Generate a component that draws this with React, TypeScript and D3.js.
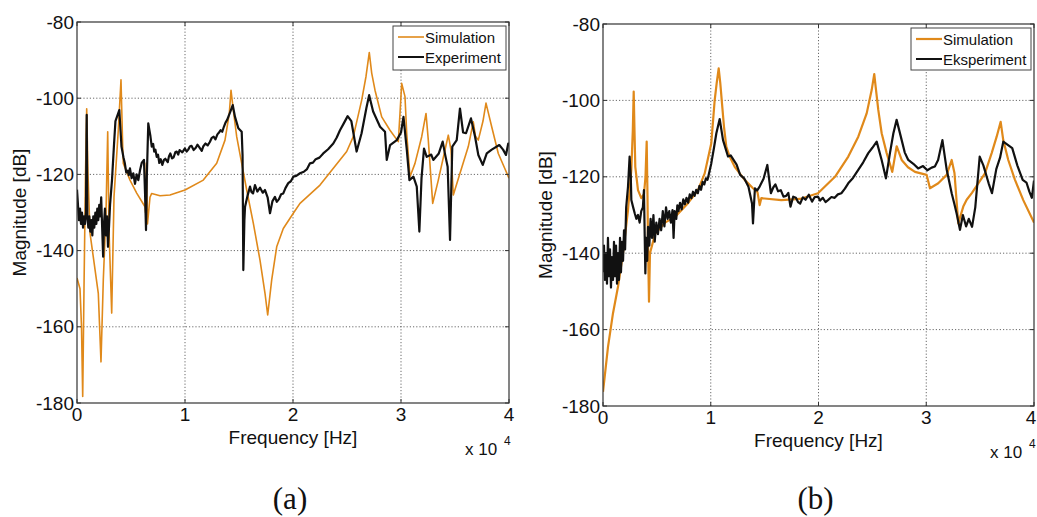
import React from "react";
import * as d3 from "d3";

// ---------- DATA (frequency in Hz, magnitude in dB) ----------
const xTicks = [0, 1, 2, 3, 4];
const yTicks = [-80, -100, -120, -140, -160, -180];

const simA: [number, number][] = [
  [0, -147.2], [278, -150], [417, -160], [528, -178.3], [648, -150], [787, -120], [898, -102.8],
  [1019, -120], [1204, -135.4], [1972, -151.2], [2222, -169.2], [2435, -147.7], [2685, -130.2],
  [2843, -108.8], [2963, -134.6], [3213, -156.4], [3426, -125.9], [3824, -108.4], [4074, -95.2],
  [4231, -112.7], [4287, -117.1], [4907, -121.5], [5528, -124.9], [6296, -128.5], [6343, -130],
  [6417, -117], [6528, -133], [6759, -126], [6917, -125], [7685, -125.6], [8611, -125.4],
  [10000, -124.1], [11694, -121.5], [12935, -117.1], [13704, -111], [14102, -104], [14259, -97.9],
  [14472, -103.1], [14787, -110.1], [15250, -117.1], [15713, -124.1], [16324, -132.8], [16944, -142.5],
  [17407, -151.2], [17657, -156.9], [18028, -147.7], [18491, -139], [19102, -134.2], [20028, -130.2],
  [20648, -127.6], [22500, -122.8], [24972, -114], [25583, -110.1], [26361, -100.5], [26759, -94.3],
  [27065, -88], [27287, -93.4], [27593, -97.9], [28213, -104.9], [28981, -108.4], [29750, -111.4],
  [29907, -104], [30065, -96.1], [30370, -99.6], [30528, -109.2], [30833, -120.6], [31296, -117.1],
  [31917, -110.1], [32315, -104], [32528, -111], [32935, -127.6], [33454, -121.5], [34074, -113.6],
  [34380, -109.7], [34630, -113.6], [34843, -125.4], [35463, -119.7], [36231, -112.7], [36694, -106.2],
  [36898, -110], [37157, -111], [37593, -106], [37870, -101.3], [38398, -107.5], [39009, -114.5],
  [40000, -121],
];

const expA: [number, number][] = [
  [0, -124], [90, -128], [180, -132], [280, -129], [370, -133], [460, -130], [560, -134], [650, -131],
  [740, -133], [830, -130], [880, -110], [900, -104.4], [930, -118], [960, -131], [1050, -134],
  [1140, -131], [1230, -135], [1320, -132], [1420, -136], [1510, -131], [1600, -134], [1700, -130],
  [1790, -133], [1880, -129], [1970, -132], [2060, -128], [2150, -131], [2240, -126], [2330, -134],
  [2420, -141.6], [2500, -133], [2590, -129], [2680, -136], [2780, -131], [2870, -139], [2960, -134],
  [3060, -128], [3240, -121.5], [3430, -112], [3560, -106], [3917, -103.1], [4120, -112.7],
  [4300, -115.5], [4430, -117.1], [4560, -119.5], [4700, -119], [4800, -120.2], [4900, -118.4],
  [5060, -121], [5210, -119.7], [5370, -122.5], [5520, -120], [5680, -121.5], [5830, -119],
  [5990, -117], [6200, -116.2], [6300, -125], [6390, -134.6], [6470, -120], [6600, -106.6],
  [6800, -110], [6920, -112.7], [7050, -112], [7150, -114], [7260, -113.5], [7380, -115.4],
  [7500, -114.8], [7620, -117], [7750, -116], [7900, -117.5], [8050, -116.2], [8180, -115.9],
  [8400, -116.8], [8520, -115.2], [8640, -114.5], [8800, -115.8], [8950, -115.5], [9100, -114.2],
  [9230, -114], [9370, -114.8], [9500, -113.6], [9750, -114.2], [9990, -113.2], [10150, -114],
  [10300, -113.5], [10450, -112.7], [10600, -112.5], [10800, -113.6], [11000, -113], [11150, -112.2],
  [11300, -112.8], [11550, -113.8], [11700, -112.6], [11900, -111.9], [12100, -112.4], [12300, -111.5],
  [12480, -110.4], [12650, -110.1], [12820, -110.8], [13000, -109.5], [13150, -109], [13300, -108.4],
  [13450, -108.8], [13600, -107.5], [13750, -106.4], [13900, -105.7], [14010, -104.9], [14200, -103.5],
  [14420, -101.8], [14630, -104.9], [14940, -107.9], [15250, -108.8], [15330, -115], [15400, -145.1],
  [15500, -132], [15560, -128.5], [15800, -125.5], [16020, -123.2], [16150, -124.6], [16300, -125],
  [16480, -122.8], [16700, -124.5], [16950, -123.5], [17200, -124.8], [17410, -124.1], [17650, -126],
  [17870, -130.2], [18100, -127], [18330, -125.9], [18500, -127.2], [18700, -126.5], [18900, -125.2],
  [19100, -125], [19300, -123.6], [19560, -122.3], [19800, -121.8], [20030, -120.6], [20300, -120.4],
  [20650, -119.7], [21000, -119.3], [21300, -118.6], [21570, -117.1], [21850, -116.9], [22100, -116],
  [22450, -115.6], [22800, -114.5], [23250, -113.4], [23730, -111.9], [24050, -110.3], [24350, -108.4],
  [24700, -106.6], [25060, -104.7], [25400, -106], [25890, -114], [26350, -109.2], [26800, -102.5],
  [27050, -99.2], [27420, -103.5], [28060, -107.5], [28520, -108.8], [28680, -116.2], [28990, -112.3],
  [29610, -111], [30000, -109], [30230, -104.9], [30540, -113.6], [30780, -121.5], [31150, -120.6],
  [31460, -123.2], [31700, -135], [31900, -121], [32130, -113.2], [32380, -115.4], [32800, -114.8],
  [32990, -116.2], [33500, -114.5], [33860, -111.4], [34100, -115], [34320, -118], [34540, -137.2],
  [34750, -112.7], [35160, -111], [35460, -102.7], [35750, -109], [36020, -109.2], [36480, -105.3],
  [36850, -110], [37160, -114.9], [37570, -117.5], [37940, -114.5], [38400, -113.5], [39100, -112.3],
  [39450, -113.5], [39720, -114.9], [39930, -111.9], [40000, -112],
];

const simB: [number, number][] = [
  [0, -176.3], [464, -164.5], [928, -155.7], [1392, -148.8], [1856, -140], [2320, -128.7],
  [2626, -118.2], [2765, -108], [2849, -97.7], [2923, -108], [2997, -117.4], [3248, -123.5],
  [3554, -125.6], [3805, -124.5], [3944, -120], [4055, -110.8], [4130, -125], [4176, -137.4],
  [4269, -152.7], [4361, -140], [4826, -135], [5754, -132], [6682, -130.5], [7888, -126.9],
  [8816, -123.5], [9438, -119.1], [10050, -111.2], [10366, -99.9], [10551, -95.5], [10737, -91.6],
  [10885, -95.5], [11043, -100.8], [11229, -106.9], [11442, -112.1], [11755, -114.7], [12222, -117.4],
  [13150, -120.8], [13920, -123], [14338, -124], [14542, -127.4], [14690, -125.6], [16546, -126.1],
  [18282, -125.8], [19952, -124.3], [21530, -120], [22764, -114.7], [23692, -109.5], [24471, -103.4],
  [24935, -97.3], [25084, -94.7], [25176, -93.1], [25303, -96.4], [25548, -102.5], [25863, -108.6],
  [26327, -113.8], [26847, -118.7], [27255, -112], [27719, -115.6], [28304, -117.5], [28954, -118.7],
  [30039, -119.5], [30346, -123], [31116, -121.7], [31895, -119.5], [32359, -115.6], [32619, -119],
  [32972, -132.2], [33436, -127.8], [33750, -126], [34243, -124.2], [35450, -119.1], [36071, -113.8],
  [36535, -109.5], [36906, -105.6], [37147, -110.4], [37611, -115.6], [38234, -120.8], [39004, -126.1],
  [40000, -132],
];

const expB: [number, number][] = [
  [0, -145], [90, -138], [180, -147], [280, -140], [370, -148], [460, -136], [560, -146], [650, -139],
  [740, -149], [830, -141], [930, -147], [1020, -137], [1110, -146], [1210, -138], [1300, -148],
  [1390, -140], [1480, -147], [1580, -136], [1670, -145], [1760, -137], [1860, -142], [1950, -134],
  [2050, -139], [2150, -128], [2320, -122.6], [2470, -114.7], [2580, -120], [2630, -126.1],
  [2800, -128], [2950, -129.6], [3100, -131], [3250, -130], [3400, -132], [3550, -129], [3700, -128],
  [3800, -123.5], [3930, -145.3], [4000, -136], [4100, -142], [4180, -133.1], [4300, -138],
  [4420, -131], [4550, -136], [4680, -130], [4800, -137], [4950, -132], [5100, -135], [5250, -131],
  [5400, -134], [5550, -129], [5700, -133], [5850, -128], [6000, -131], [6150, -129], [6300, -132],
  [6450, -128.7], [6550, -136], [6650, -129], [6800, -131], [6900, -127.5], [7000, -129], [7150, -126.8],
  [7300, -128.5], [7450, -125.9], [7600, -127.2], [7750, -125.5], [7900, -126.8], [8050, -124.6],
  [8200, -125.6], [8350, -123.9], [8500, -125], [8650, -123.4], [8800, -124.3], [8950, -122.4],
  [9100, -123.4], [9250, -121.3], [9400, -122], [9550, -120.4], [9700, -120.8], [9880, -118.6],
  [10050, -116.5], [10300, -112.4], [10520, -108.6], [10830, -104.9], [11140, -110.4], [11600, -114.7],
  [11850, -114.4], [12100, -115.5], [12400, -116.8], [12730, -119.5], [13100, -120.4], [13500, -122.6],
  [13830, -127], [13920, -132.2], [14100, -123], [14300, -123.6], [14550, -122.5], [14900, -120.5],
  [15250, -116.9], [15580, -124.3], [15800, -122.8], [16000, -122], [16250, -123.8], [16500, -123.5],
  [16750, -125.2], [17000, -125], [17200, -124.2], [17400, -127.8], [17650, -125.2], [17900, -125.5],
  [18100, -126.6], [18300, -127], [18550, -125.4], [18800, -126], [19100, -124.7], [19400, -126.5],
  [19650, -125.3], [19950, -125.2], [20150, -126.2], [20400, -125.5], [20650, -126.6], [20880, -126.1],
  [21200, -125.3], [21500, -125.5], [21800, -124.6], [22120, -124.3], [22450, -123.1], [22760, -121.7],
  [23200, -120.3], [23690, -118.2], [24150, -116.2], [24620, -113.8], [25000, -112.4], [25400, -110.8],
  [25860, -115.6], [26260, -120.4], [26630, -113.8], [26950, -108.6], [27250, -105.1], [27720, -110.4],
  [28000, -113.6], [28330, -115.6], [28800, -116.6], [29250, -117.8], [29700, -117.2], [30100, -118.3],
  [30500, -117.6], [30800, -117.3], [31100, -115.6], [31500, -110.4], [31890, -118], [32360, -124.3],
  [32600, -127], [32820, -129.6], [33130, -133.9], [33400, -130], [33700, -133], [33950, -131],
  [34250, -133.1], [34550, -128], [34960, -114.7], [35300, -117], [35790, -121.7], [36100, -124.3],
  [36500, -118], [36850, -115], [37150, -110.8], [37500, -111.5], [37980, -112.5], [38450, -117],
  [38950, -120.8], [39300, -121.5], [39570, -123.9], [39800, -125.5], [40000, -121],
];

const legendA = ["Simulation", "Experiment"];
const legendB = ["Simulation", "Eksperiment"];

const ORANGE = "#E0891A";
const BLACK = "#111111";
const FONT = "'Liberation Sans', Arial, sans-serif";

type PanelProps = {
  x0: number; x1: number; y0: number; y1: number;
  sim: [number, number][]; exp: [number, number][];
  legend: string[]; legendBox: { x: number; y: number; w: number; h: number };
  caption: string; simWidth: number; lastTickShift: number;
};

function Panel({ x0, x1, y0, y1, sim, exp, legend, legendBox, caption, simWidth, lastTickShift }: PanelProps) {
  const x = d3.scaleLinear().domain([0, 40000]).range([x0, x1]);
  const y = d3.scaleLinear().domain([-180, -80]).range([y1, y0]);
  const line = d3.line<[number, number]>().x((d) => x(d[0])).y((d) => y(d[1]));
  const clipId = "clip" + caption.replace(/\W/g, "");
  const cx = (x0 + x1) / 2;
  return (
    <g>
      <defs>
        <clipPath id={clipId}>
          <rect x={x0} y={y0} width={x1 - x0} height={y1 - y0} />
        </clipPath>
      </defs>
      <rect x={x0} y={y0} width={x1 - x0} height={y1 - y0} fill="#fff" />
      {/* grid */}
      {xTicks.slice(1, -1).map((t) => (
        <line key={"gx" + t} x1={x(t * 10000)} x2={x(t * 10000)} y1={y0} y2={y1}
          stroke="#444" strokeWidth={0.8} strokeDasharray="1.2,2" />
      ))}
      {yTicks.slice(1, -1).map((t) => (
        <line key={"gy" + t} x1={x0} x2={x1} y1={y(t)} y2={y(t)}
          stroke="#444" strokeWidth={0.8} strokeDasharray="1.2,2" />
      ))}
      {/* curves */}
      <g clipPath={`url(#${clipId})`}>
        <path d={line(sim) || ""} fill="none" stroke={ORANGE} strokeWidth={simWidth} strokeLinejoin="round" />
        <path d={line(exp) || ""} fill="none" stroke={BLACK} strokeWidth={2.2} strokeLinejoin="round" />
      </g>
      {/* axes box */}
      <rect x={x0} y={y0} width={x1 - x0} height={y1 - y0} fill="none" stroke="#333" strokeWidth={1.2} />
      {xTicks.map((t, i) => (
        <g key={"tx" + t}>
          <line x1={x(t * 10000)} x2={x(t * 10000)} y1={y1} y2={y1 - 4} stroke="#333" />
          <line x1={x(t * 10000)} x2={x(t * 10000)} y1={y0} y2={y0 + 4} stroke="#333" />
          <text x={x(t * 10000) - (i === xTicks.length - 1 ? lastTickShift : 0)} y={y1 + 18} textAnchor="middle"
            fontFamily={FONT} fontSize={19} fill="#111">{t}</text>
        </g>
      ))}
      {yTicks.map((t) => (
        <g key={"ty" + t}>
          <line x1={x0} x2={x0 + 4} y1={y(t)} y2={y(t)} stroke="#333" />
          <line x1={x1} x2={x1 - 4} y1={y(t)} y2={y(t)} stroke="#333" />
          <text x={x0 - 3} y={y(t) + 6.5} textAnchor="end" fontFamily={FONT} fontSize={19} fill="#111">{t}</text>
        </g>
      ))}
      {/* axis labels */}
      <text x={cx} y={y1 + 41} textAnchor="middle" fontFamily={FONT} fontSize={19} fill="#111">Frequency [Hz]</text>
      <text transform={`translate(${x0 - 51},${(y0 + y1) / 2}) rotate(-90)`} textAnchor="middle"
        fontFamily={FONT} fontSize={19} fill="#111">Magnitude [dB]</text>
      <text x={x1 - 44} y={y1 + 52} fontFamily={FONT} fontSize={17} fill="#111">x 10</text>
      <text x={x1 - 5} y={y1 + 42} fontFamily={FONT} fontSize={12} fill="#111">4</text>
      {/* legend */}
      <rect x={legendBox.x} y={legendBox.y} width={legendBox.w} height={legendBox.h} fill="#fff" stroke="#444" strokeWidth={1} />
      {legend.map((name, i) => (
        <g key={name}>
          <line x1={legendBox.x + 5} x2={legendBox.x + 31} y1={legendBox.y + 11 + i * 20} y2={legendBox.y + 11 + i * 20}
            stroke={i === 0 ? ORANGE : BLACK} strokeWidth={i === 0 ? simWidth : 2} />
          <text x={legendBox.x + 32} y={legendBox.y + 16.5 + i * 20} fontFamily={FONT} fontSize={15} fill="#111">{name}</text>
        </g>
      ))}
      {/* caption */}
      <text x={cx - 3} y={509} textAnchor="middle" fontFamily="'Liberation Serif', 'Times New Roman', serif" fontSize={31} fill="#111">{caption}</text>
    </g>
  );
}

export default function App() {
  return (
    <div style={{ position: "fixed", left: 0, top: 0 }}>
      <svg width={1037} height={517} style={{ display: "block", background: "#fff" }}>
        <rect width={1037} height={517} fill="#fff" />
        <Panel x0={77} x1={509} y0={22} y1={403} sim={simA} exp={expA} legend={legendA}
          legendBox={{ x: 393, y: 26, w: 113, h: 44 }} caption="(a)" simWidth={1.6} lastTickShift={0} />
        <Panel x0={603} x1={1034} y0={24} y1={406} sim={simB} exp={expB} legend={legendB}
          legendBox={{ x: 911, y: 28, w: 120, h: 42 }} caption="(b)" simWidth={2.2} lastTickShift={3} />
      </svg>
    </div>
  );
}
